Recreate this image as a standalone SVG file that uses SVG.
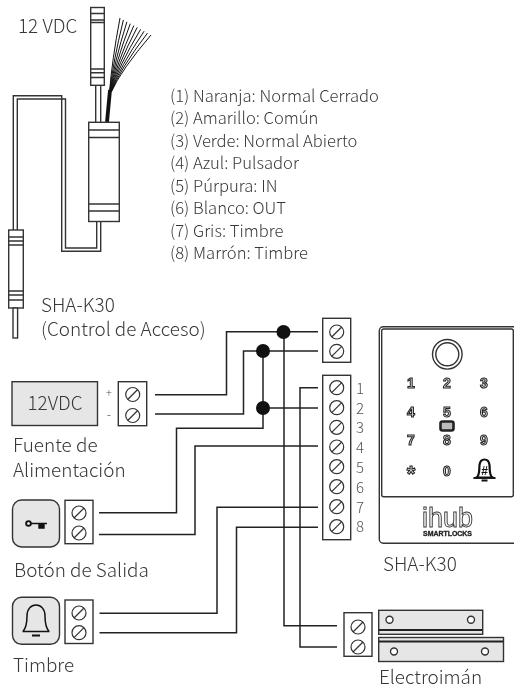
<svg xmlns="http://www.w3.org/2000/svg" width="514" height="687" viewBox="0 0 514 687">
<style>
text{font-family:"Noto Sans CJK SC","Noto Sans CJK JP","Noto Sans",sans-serif;font-weight:300;fill:#383838;filter:url(#nop)}
.l{font-size:18.9px}
.s{font-size:16.6px}
.n{font-size:15px;text-anchor:middle;fill:#555}
.o{fill:#fff;stroke:#333;stroke-width:1.4}
.b{fill:none;stroke:#333;stroke-width:1.4}
.g{fill:#e6e6e6;stroke:#333;stroke-width:1.4}
.w{fill:none;stroke:#222;stroke-width:1.5}
.k{font-family:"Liberation Sans",sans-serif;font-weight:700;font-size:14px;text-anchor:middle;fill:#ddd;stroke:#222;stroke-width:1}
.f{fill:none;stroke:#111;stroke-width:1}
</style>
<defs>
<filter id="nop" x="-5%" y="-20%" width="110%" height="140%" color-interpolation-filters="sRGB"><feOffset dx="0" dy="0"/></filter>
<g id="screw"><circle r="7" fill="#fff" stroke="#333" stroke-width="1.2"/><path d="M-5 5L5-5" stroke="#333" stroke-width="1.2"/></g>
</defs>

<g id="connectors">
<path class="w" d="M155 394.7H226.5V331.7H318"/>
<path class="w" d="M155 414H243.5V351H318"/>
<path class="w" d="M263 351V428.3H176.5V512.7H99"/>
<path class="w" d="M263 408H318"/>
<path class="w" d="M318 446H195V534.5H99"/>
<path class="w" d="M318 507.3H217V613.3H99.5"/>
<path class="w" d="M318 527.3H236.5V632.7H99.5"/>
<path class="w" d="M284 332V625.7H337"/>
<path class="w" d="M318 387.7H300V647H337"/>
<circle cx="283.5" cy="332" r="7" fill="#111"/>
<circle cx="263" cy="351" r="7" fill="#111"/>
<circle cx="263" cy="408" r="7" fill="#111"/>
</g>

<g id="cable-assembly">
<g id="wire-fan">
<path d="M107 122L110 90" stroke="#111" stroke-width="3.8" fill="none"/>
<path class="f" d="M109.5 92Q112 60 120 18"/>
<path class="f" d="M109.7 92Q113 62 123.4 19.9"/>
<path class="f" d="M109.9 92Q114 63 126.9 21.8"/>
<path class="f" d="M110.1 92Q115 64 130.3 23.7"/>
<path class="f" d="M110.3 92Q116 65 133.8 25.6"/>
<path class="f" d="M110.5 92Q117 66 137.2 27.4"/>
<path class="f" d="M110.7 92Q118 67 140.6 29.3"/>
<path class="f" d="M110.9 92Q119 68 144.1 31.2"/>
<path class="f" d="M111.1 92Q120 69 147.5 33.1"/>
<path class="f" d="M111.3 92Q121 70 151 35"/>
</g>
<path class="b" d="M95.7 85V122M100.7 85V122"/>
<path class="b" d="M100.7 221V251.3H61.7V95.7H13.3V230M96.7 221V248H65.5V99H17.3V230"/>
<rect class="o" x="90.7" y="7.5" width="13.6" height="77.8"/>
<path class="b" d="M91 13.5H104M91 20H104M91 22.5H104M91 69H104M91 72.7H104M91 77.5H104"/>
<rect class="o" x="88.7" y="122.3" width="30.6" height="99.2"/>
<path class="b" d="M89 130H119M89 137.5H119M89 204H119M89 211H119"/>
<rect class="o" x="8.7" y="230" width="14.6" height="78"/>
<path class="b" d="M9 237H23M9 241H23M9 245H23M9 291H23M9 295H23M9 300H23"/>
<rect class="o" x="13" y="308" width="4.6" height="30"/>
</g>

<g id="labels-top">
<text class="l" x="18" y="33">12 VDC</text>
<text class="l" x="41" y="312">SHA-K30</text>
<text class="l" x="41" y="336">(Control de Acceso)</text>
</g>

<g id="legend">
<text class="s" x="170" y="101.5">(1) Naranja: Normal Cerrado</text>
<text class="s" x="170" y="124">(2) Amarillo: Común</text>
<text class="s" x="170" y="146.5">(3) Verde: Normal Abierto</text>
<text class="s" x="170" y="169">(4) Azul: Pulsador</text>
<text class="s" x="170" y="191.5">(5) Púrpura: IN</text>
<text class="s" x="170" y="214">(6) Blanco: OUT</text>
<text class="s" x="170" y="236.5">(7) Gris: Timbre</text>
<text class="s" x="170" y="259">(8) Marrón: Timbre</text>
</g>

<g id="power-supply">
<rect class="g" x="12" y="381.7" width="85.5" height="43.8"/>
<text class="l" x="55" y="410" text-anchor="middle">12VDC</text>
<text class="n" x="109" y="397" style="font-size:11px">+</text>
<text class="n" x="109" y="419" style="font-size:13px">-</text>
<rect class="o" x="118.3" y="381.7" width="28.4" height="44"/>
<use href="#screw" x="132.7" y="394.5"/>
<use href="#screw" x="132.7" y="415.5"/>
<text class="l" x="13" y="452">Fuente de</text>
<text class="l" x="13" y="477">Alimentación</text>
</g>

<g id="exit-button">
<rect class="g" x="12.5" y="500" width="47" height="47" rx="9"/>
<circle cx="28.5" cy="523.5" r="2.4" fill="none" stroke="#111" stroke-width="1.8"/>
<path d="M30.5 523.5H47M39 523.5V528H44V523.5" fill="#111" stroke="#111" stroke-width="1.4"/>
<rect class="o" x="65" y="500.3" width="28" height="43.4"/>
<use href="#screw" x="79" y="513"/>
<use href="#screw" x="79" y="533"/>
<text class="l" x="14" y="577">Botón de Salida</text>
</g>

<g id="doorbell">
<rect class="g" x="12.5" y="597.3" width="47" height="47" rx="9"/>
<path class="b" d="M23 631.5C26 628 27 624 27 616C27 609 31 605 36 605C41 605 45 609 45 616C45 624 46 628 49 631.5M22.5 631.5H49.5" style="stroke:#111;stroke-width:1.5"/>
<path d="M32 635.5H40" stroke="#111" stroke-width="2"/>
<rect class="o" x="65" y="600" width="28" height="43.5"/>
<use href="#screw" x="79" y="613"/>
<use href="#screw" x="79" y="632.7"/>
<text class="l" x="13" y="672">Timbre</text>
</g>

<g id="terminal-top">
<rect class="o" x="322.7" y="318.3" width="28" height="44"/>
<use href="#screw" x="336.7" y="332"/>
<use href="#screw" x="336.7" y="351.3"/>
</g>

<g id="terminal-main">
<rect class="o" x="322.7" y="375.3" width="28" height="164.4"/>
<use href="#screw" x="336.7" y="387.7"/>
<use href="#screw" x="336.7" y="407.7"/>
<use href="#screw" x="336.7" y="427.3"/>
<use href="#screw" x="336.7" y="447"/>
<use href="#screw" x="336.7" y="466.7"/>
<use href="#screw" x="336.7" y="486.7"/>
<use href="#screw" x="336.7" y="506.7"/>
<use href="#screw" x="336.7" y="526.7"/>
<text class="n" x="360" y="393.5">1</text>
<text class="n" x="360" y="413.5">2</text>
<text class="n" x="360" y="433">3</text>
<text class="n" x="360" y="452.5">4</text>
<text class="n" x="360" y="472.5">5</text>
<text class="n" x="360" y="492.5">6</text>
<text class="n" x="360" y="512.5">7</text>
<text class="n" x="360" y="532">8</text>
</g>

<g id="reader">
<rect class="o" x="379.3" y="326.7" width="140" height="216.6" rx="4"/>
<rect class="b" x="381.7" y="329" width="131.6" height="167.7" rx="2"/>
<circle class="b" cx="447.3" cy="354.3" r="14.8"/>
<circle class="b" cx="447.3" cy="354.3" r="11.5"/>
<text class="k" x="411" y="388">1</text>
<text class="k" x="447" y="388">2</text>
<text class="k" x="484" y="388">3</text>
<text class="k" x="411" y="417">4</text>
<text class="k" x="447" y="417">5</text>
<text class="k" x="484" y="417">6</text>
<text class="k" x="411" y="445">7</text>
<text class="k" x="447" y="445">8</text>
<text class="k" x="484" y="445">9</text>
<text class="k" x="411" y="481" style="font-size:22px">*</text>
<text class="k" x="447" y="476">0</text>
<rect x="440.5" y="421.5" width="13" height="9" rx="2" fill="#bbb" stroke="#222" stroke-width="2.6"/>
<path d="M476.5 477.5C480 475 479 470 479.5 465C480 461 482 459.5 484.5 459.5C487 459.5 489 461 489.5 465C490 470 489 475 492.5 477.5Z" fill="#fff" stroke="#111" stroke-width="2.2"/>
<path d="M473.5 478H495.5" stroke="#111" stroke-width="1.8"/>
<path d="M481.5 480.5H487.5" stroke="#111" stroke-width="2"/>
<text x="484.5" y="474.5" style="font-family:'Liberation Sans',sans-serif;font-weight:700;font-size:12px;fill:#111" text-anchor="middle">#</text>
<text x="447.5" y="527" text-anchor="middle" style="font-family:'Liberation Sans',sans-serif;font-weight:400;font-size:27px;fill:#fff;stroke:#333;stroke-width:.9">ihub</text>
<text x="447.5" y="535.5" text-anchor="middle" textLength="49" lengthAdjust="spacingAndGlyphs" style="font-family:'Liberation Sans',sans-serif;font-weight:700;font-size:6.5px;fill:#222;stroke:#222;stroke-width:.3">SMARTLOCKS</text>
</g>
<text class="l" x="383" y="571">SHA-K30</text>

<g id="electromagnet">
<rect class="o" x="344" y="612.7" width="28" height="43.6"/>
<use href="#screw" x="358" y="627"/>
<use href="#screw" x="358" y="647"/>
<rect class="g" x="378.7" y="610.3" width="104" height="24"/>
<path d="M379 630H482.5" stroke="#222" stroke-width="2"/>
<circle class="o" cx="389.5" cy="619.7" r="3.5"/>
<circle class="o" cx="471" cy="619.7" r="3.5"/>
<rect class="g" x="378.7" y="637.5" width="124.8" height="24"/>
<path d="M379 641.5H503" stroke="#222" stroke-width="2"/>
<circle class="o" cx="394" cy="651.5" r="3.5"/>
<circle class="o" cx="485" cy="651.5" r="3.5"/>
<text class="l" x="379" y="684">Electroimán</text>
</g>
</svg>
